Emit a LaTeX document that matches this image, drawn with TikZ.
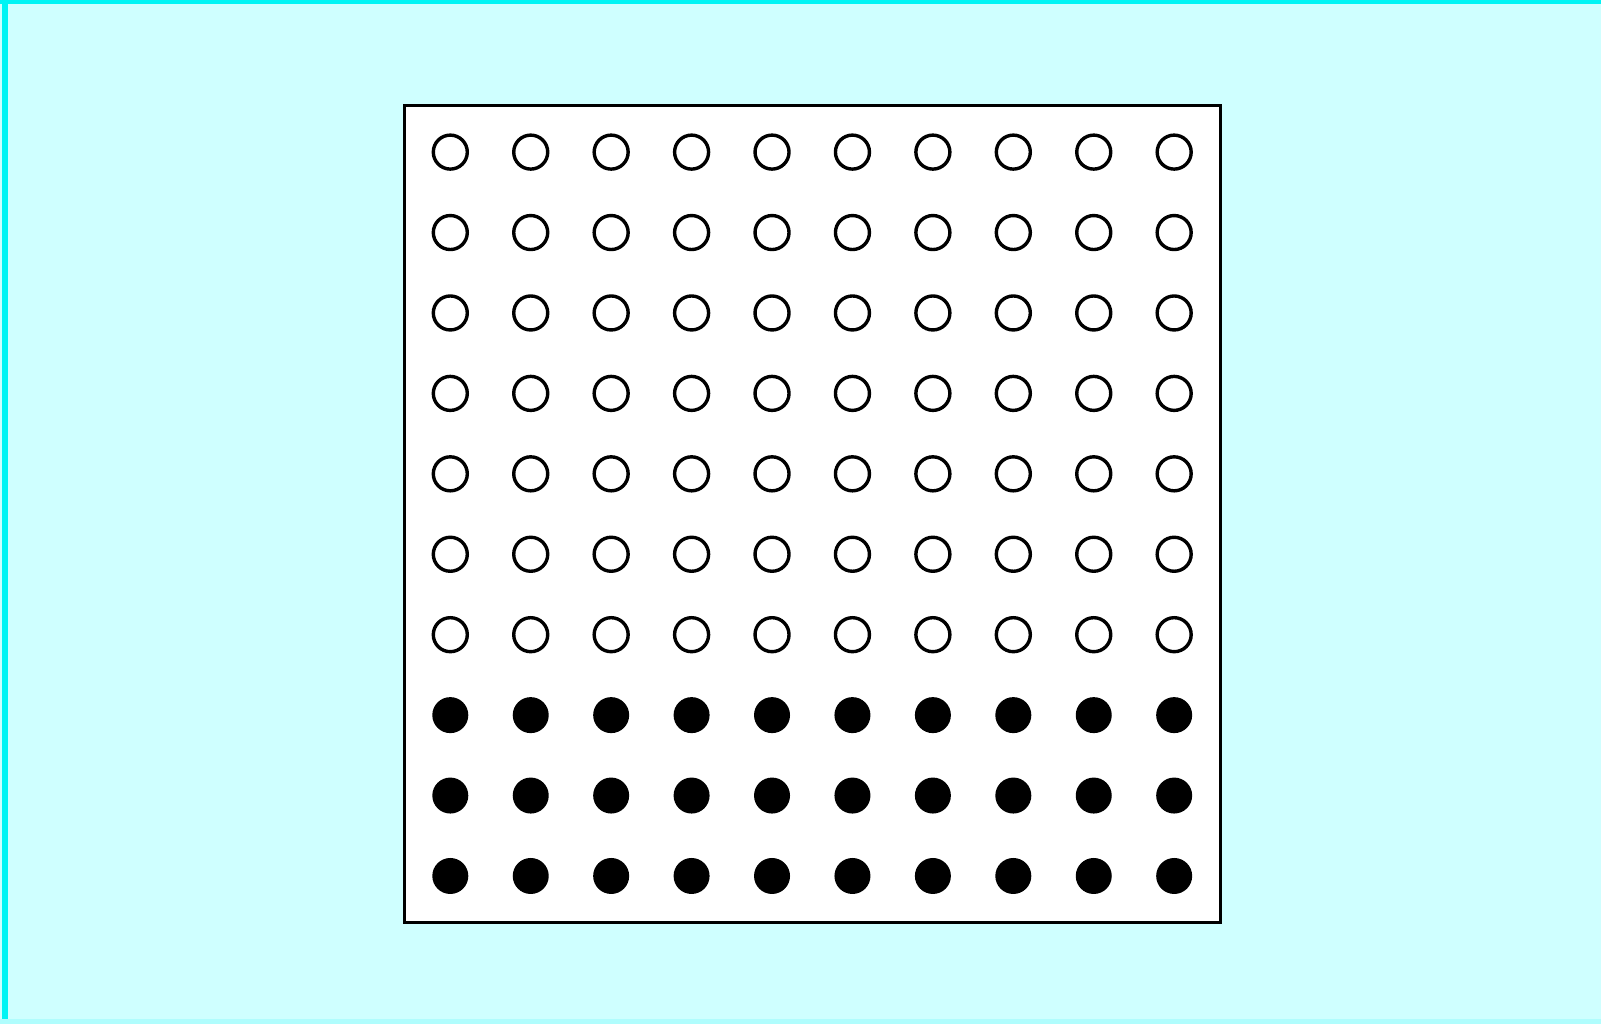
\documentclass[tikz,border=0pt]{standalone}
\definecolor{bgc}{HTML}{CFFFFF}
\definecolor{edgec}{HTML}{00F4F4}
\begin{document}
\begin{tikzpicture}[x=0.5pt,y=-0.5pt,
  hollow/.style={circle,draw=black,line width=1.7pt,fill=white,minimum size=17pt,inner sep=0pt},
  solid/.style={circle,fill=black,draw=none,minimum size=18pt,inner sep=0pt}]
\useasboundingbox (0,0) rectangle (1601,1024);
\fill[bgc] (0,0) rectangle (1601,1024);
\fill[edgec] (0,0) rectangle (1601,4);
\fill[edgec] (2,0) rectangle (8,1024);
\fill[edgec!15!bgc] (0,1019) rectangle (1601,1024);
\node[draw=black,line width=1.5pt,fill=white,minimum width=408pt,minimum height=408.5pt,inner sep=0pt] (board) at (812,514) {};
\foreach \r in {0,...,9}{
  \foreach \c in {0,...,9}{
    \pgfmathsetmacro{\xx}{450.3+80.43*\c}
    \pgfmathsetmacro{\yy}{152.1+80.43*\r}
    \ifnum\r<7
      \node[hollow] (p\r\c) at (\xx,\yy) {};
    \else
      \node[solid] (p\r\c) at (\xx,\yy) {};
    \fi
  }
}
\end{tikzpicture}
\end{document}
